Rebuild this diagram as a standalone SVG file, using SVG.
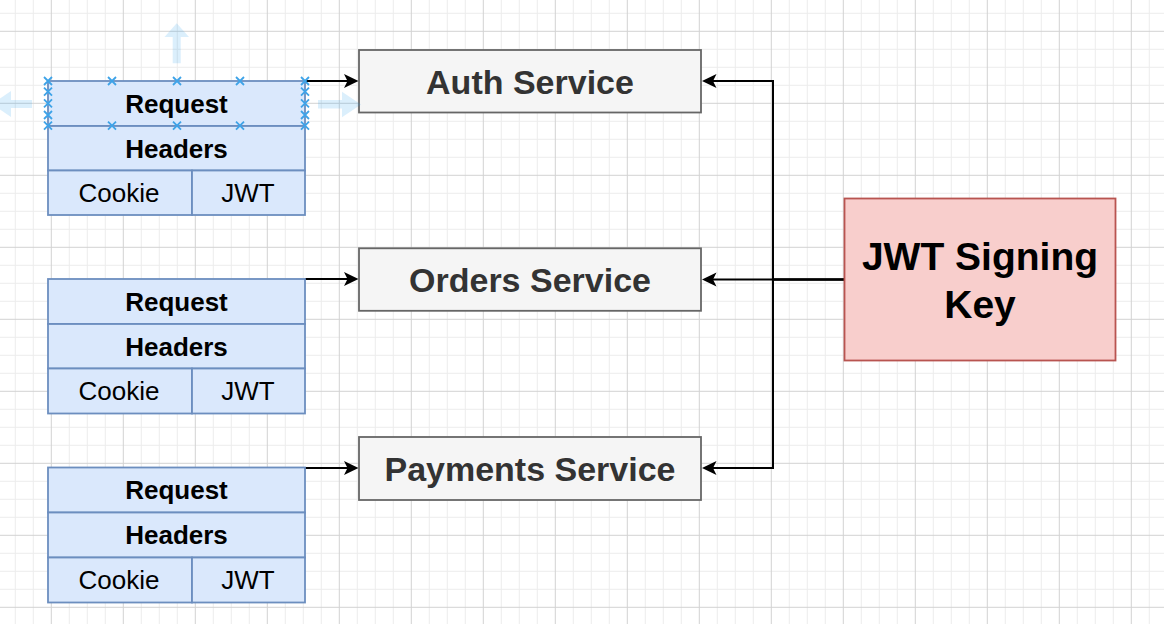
<svg xmlns="http://www.w3.org/2000/svg" width="1164" height="624" viewBox="0 0 1164 624">
  <style>
    .tbl { fill: #dae8fc; stroke: #6c8ebf; stroke-width: 1.8; }
    .svc { fill: #f5f5f5; stroke: #666666; stroke-width: 1.8; }
    .key { fill: #f8cecc; stroke: #b85450; stroke-width: 1.8; }
    .tb { font-family: "Liberation Sans", Arial, sans-serif; font-size: 26px; font-weight: bold; fill: #000; text-anchor: middle; }
    .tr { font-family: "Liberation Sans", Arial, sans-serif; font-size: 26px; fill: #000; text-anchor: middle; }
    .st { font-family: "Liberation Sans", Arial, sans-serif; font-size: 34px; font-weight: bold; fill: #333333; text-anchor: middle; }
    .kt { font-family: "Liberation Sans", Arial, sans-serif; font-size: 39px; font-weight: bold; fill: #000; text-anchor: middle; }
    .edge { fill: none; stroke: #000; stroke-width: 2; }
    .hx { stroke: #3ea3e8; stroke-width: 1.8; fill: none; }
    .ghost { fill: #29a0f0; opacity: 0.17; }
  </style>
  <defs>
    <pattern id="grid" patternUnits="userSpaceOnUse" x="50.8" y="30.8" width="72" height="72">
      <rect x="0" y="0" width="72" height="72" fill="#ffffff"/>
      <g fill="#ececec">
        <rect x="18" y="0" width="1" height="72"/>
        <rect x="36" y="0" width="1" height="72"/>
        <rect x="54" y="0" width="1" height="72"/>
        <rect x="0" y="18" width="72" height="1"/>
        <rect x="0" y="36" width="72" height="1"/>
        <rect x="0" y="54" width="72" height="1"/>
      </g>
      <g fill="#d2d2d2">
        <rect x="0" y="0" width="1" height="72"/>
        <rect x="0" y="0" width="72" height="1"/>
      </g>
    </pattern>
    <marker id="arrow" markerUnits="userSpaceOnUse" viewBox="0 0 16 16" markerWidth="16" markerHeight="16" refX="5" refY="8" orient="auto">
      <path d="M15,8 L0.5,1 L4,8 L0.5,15 Z" fill="#000"/>
    </marker>
  </defs>

  <rect x="0" y="0" width="1164" height="624" fill="url(#grid)"/>

  <g id="connectors">
    <path class="edge" d="M305,81 H348.5" marker-end="url(#arrow)"/>
    <path class="edge" d="M305,279 H348.5" marker-end="url(#arrow)"/>
    <path class="edge" d="M305,468 H348.5" marker-end="url(#arrow)"/>
    <path class="edge" d="M844,279.5 H773 V81 H712" marker-end="url(#arrow)"/>
    <path class="edge" d="M844,279.5 H712" marker-end="url(#arrow)"/>
    <path class="edge" d="M844,279.5 H773 V468 H712" marker-end="url(#arrow)"/>
  </g>

  <g id="request-1">
    <rect class="tbl" x="48" y="81" width="257" height="45"/>
    <rect class="tbl" x="48" y="126" width="257" height="44.5"/>
    <rect class="tbl" x="48" y="170.5" width="144" height="44.5"/>
    <rect class="tbl" x="192" y="170.5" width="113" height="44.5"/>
    <text class="tb" x="176.5" y="112.8">Request</text>
    <text class="tb" x="176.5" y="157.5">Headers</text>
    <text class="tr" x="119" y="202">Cookie</text>
    <text class="tr" x="248" y="202">JWT</text>
  </g>

  <g id="request-2">
    <rect class="tbl" x="48" y="279" width="257" height="45"/>
    <rect class="tbl" x="48" y="324" width="257" height="44.5"/>
    <rect class="tbl" x="48" y="368.5" width="144" height="45"/>
    <rect class="tbl" x="192" y="368.5" width="113" height="45"/>
    <text class="tb" x="176.5" y="310.8">Request</text>
    <text class="tb" x="176.5" y="355.5">Headers</text>
    <text class="tr" x="119" y="400.3">Cookie</text>
    <text class="tr" x="248" y="400.3">JWT</text>
  </g>

  <g id="request-3">
    <rect class="tbl" x="48" y="467.5" width="257" height="45"/>
    <rect class="tbl" x="48" y="512.5" width="257" height="45"/>
    <rect class="tbl" x="48" y="557.5" width="144" height="45"/>
    <rect class="tbl" x="192" y="557.5" width="113" height="45"/>
    <text class="tb" x="176.5" y="499.3">Request</text>
    <text class="tb" x="176.5" y="544.3">Headers</text>
    <text class="tr" x="119" y="589.3">Cookie</text>
    <text class="tr" x="248" y="589.3">JWT</text>
  </g>

  <g id="auth-service">
    <rect class="svc" x="359" y="50" width="342" height="62.5"/>
    <text class="st" x="530" y="93.5">Auth Service</text>
  </g>

  <g id="orders-service">
    <rect class="svc" x="359" y="248.3" width="342" height="62.5"/>
    <text class="st" x="530" y="291.8">Orders Service</text>
  </g>

  <g id="payments-service">
    <rect class="svc" x="359" y="437" width="342" height="63"/>
    <text class="st" x="530" y="481">Payments Service</text>
  </g>

  <g id="jwt-signing-key">
    <rect class="key" x="844.5" y="198.5" width="271" height="162"/>
    <text class="kt" x="980" y="269.5">JWT Signing</text>
    <text class="kt" x="980" y="317.7">Key</text>
  </g>

  <g id="selection-overlay">
    <path class="ghost" d="M172.7,63.3 V37 H164.5 L176.7,23.3 L189,37 H180.7 V63.3 Z"/>
    <path class="ghost" d="M32,100 H11 V91 L-8,104 L11,117 V108 H32 Z"/>
    <path class="ghost" d="M318,100 H342 V91.7 L361,104.5 L342,117.3 V108.5 H318 Z"/>
    <g class="hx">
      <path d="M44,77 l8,8 m0,-8 l-8,8"/>
      <path d="M108,77 l8,8 m0,-8 l-8,8"/>
      <path d="M173,77 l8,8 m0,-8 l-8,8"/>
      <path d="M236,77 l8,8 m0,-8 l-8,8"/>
      <path d="M301,77 l8,8 m0,-8 l-8,8"/>
      <path d="M44,121.7 l8,8 m0,-8 l-8,8"/>
      <path d="M108,121.7 l8,8 m0,-8 l-8,8"/>
      <path d="M173,121.7 l8,8 m0,-8 l-8,8"/>
      <path d="M236,121.7 l8,8 m0,-8 l-8,8"/>
      <path d="M301,121.7 l8,8 m0,-8 l-8,8"/>
      <path d="M44,87.7 l8,8 m0,-8 l-8,8"/>
      <path d="M44,99.3 l8,8 m0,-8 l-8,8"/>
      <path d="M44,111 l8,8 m0,-8 l-8,8"/>
      <path d="M301,87.7 l8,8 m0,-8 l-8,8"/>
      <path d="M301,99.3 l8,8 m0,-8 l-8,8"/>
      <path d="M301,111 l8,8 m0,-8 l-8,8"/>
    </g>
  </g>
</svg>
